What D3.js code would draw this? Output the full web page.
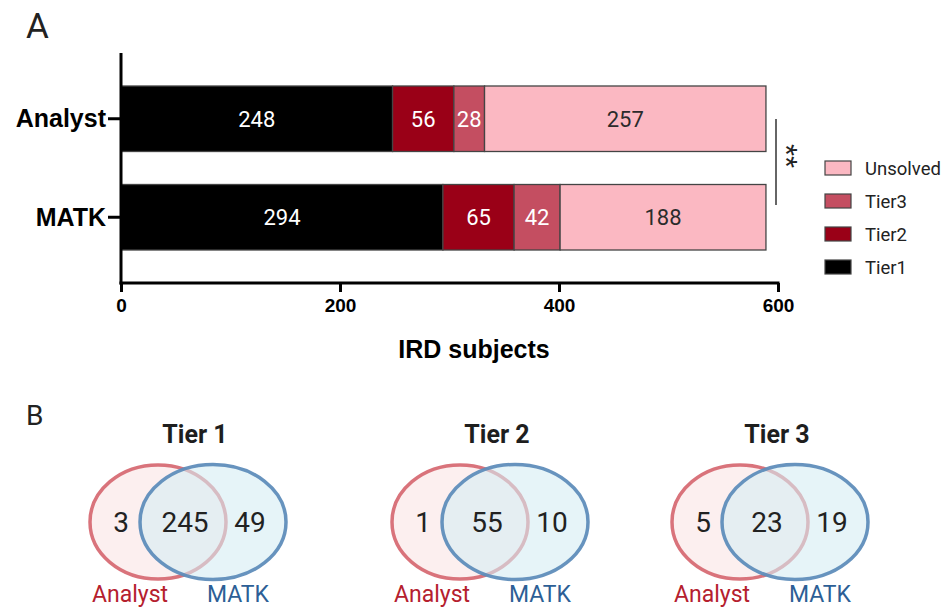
<!DOCTYPE html>
<html>
<head>
<meta charset="utf-8">
<script src="https://cdn.jsdelivr.net/npm/d3@7/dist/d3.min.js"></script>
<style>
  html, body { margin: 0; padding: 0; background: #fff; }
  svg { display: block; }
</style>
</head>
<body>
<svg id="fig" width="946" height="607"></svg>
<script>
// ---- Panel A: stacked bar data ----
const groups = ["Analyst", "MATK"];
const tierKeys = ["Tier1", "Tier2", "Tier3", "Unsolved"];
const tier1 = [248, 294];
const tier2 = [56, 65];
const tier3 = [28, 42];
const unsolved = [257, 188];
const xTicks = [0, 200, 400, 600];
const tierColors = ["#000000", "#9a0017", "#c44e61", "#fbb8c2"];
const legendOrder = ["Unsolved", "Tier3", "Tier2", "Tier1"];

// ---- Panel B: Venn counts (Analyst only, shared, MATK only) ----
const vennTitles = ["Tier 1", "Tier 2", "Tier 3"];
const analystOnly = [3, 1, 5];
const shared = [245, 55, 23];
const matkOnly = [49, 10, 19];

const svg = d3.select("#fig");
const arial = "'Liberation Sans', Arial, sans-serif";
const roboto = "Roboto, 'Noto Sans', sans-serif";

// Panel letters
svg.append("text").attr("x", 26).attr("y", 38)
  .attr("font-family", roboto).attr("font-weight", 400).attr("font-size", 35)
  .attr("fill", "#222").text("A");
svg.append("text").attr("x", 26).attr("y", 425)
  .attr("font-family", roboto).attr("font-weight", 400).attr("font-size", 28)
  .attr("fill", "#222").text("B");

// Table of rows for stacking
const rows = groups.map((g, i) => ({
  group: g, Tier1: tier1[i], Tier2: tier2[i], Tier3: tier3[i], Unsolved: unsolved[i]
}));
const series = d3.stack().keys(tierKeys)(rows);

const x = d3.scaleLinear().domain([0, 600]).range([121, 778]);
const y = d3.scaleBand().domain(groups).range([53, 283]).paddingInner(0.335).paddingOuter(0.335);
const color = d3.scaleOrdinal().domain(tierKeys).range(tierColors);

const bars = svg.append("g");
series.forEach(s => {
  const key = s.key;
  bars.selectAll(null).data(s).join("rect")
    .attr("x", d => x(d[0]))
    .attr("y", d => y(d.data.group))
    .attr("width", d => x(d[1]) - x(d[0]))
    .attr("height", y.bandwidth())
    .attr("fill", color(key))
    .attr("stroke", "#444")
    .attr("stroke-width", 1.3);
  bars.selectAll(null).data(s).join("text")
    .attr("x", d => (x(d[0]) + x(d[1])) / 2)
    .attr("y", d => y(d.data.group) + y.bandwidth() / 2)
    .attr("dy", "0.36em")
    .attr("text-anchor", "middle")
    .attr("font-family", roboto)
    .attr("font-size", 22)
    .attr("fill", key === "Unsolved" ? "#2b2b2b" : "#ffffff")
    .text(d => d[1] - d[0]);
});

// Axes
const xAxis = svg.append("g").attr("transform", "translate(0,283)")
  .call(d3.axisBottom(x).tickValues(xTicks).tickSize(9).tickSizeOuter(0).tickPadding(7));
const yAxis = svg.append("g").attr("transform", "translate(121,0)")
  .call(d3.axisLeft(y).tickSize(13).tickSizeOuter(0).tickPadding(2));
[xAxis, yAxis].forEach(a => {
  a.select(".domain").attr("stroke", "#000").attr("stroke-width", 3);
  a.selectAll(".tick line").attr("stroke", "#000").attr("stroke-width", 3);
});
yAxis.select(".domain").attr("d", "M0,53V284.5");
xAxis.select(".domain").attr("d", `M${x(0) - 1.5},0H${x(600) + 1.5}`);
xAxis.selectAll(".tick text").attr("font-family", arial).attr("font-weight", "bold")
  .attr("font-size", 19).attr("fill", "#000");
yAxis.selectAll(".tick text").attr("font-family", arial).attr("font-weight", "bold")
  .attr("font-size", 25).attr("fill", "#000").attr("dy", "0.35em");

svg.append("text").attr("x", 474).attr("y", 358)
  .attr("text-anchor", "middle").attr("font-family", arial).attr("font-weight", "bold")
  .attr("font-size", 25).attr("fill", "#000").text("IRD subjects");

// Significance bracket
svg.append("line").attr("x1", 776).attr("x2", 776).attr("y1", 119).attr("y2", 205)
  .attr("stroke", "#333").attr("stroke-width", 1.5);
svg.append("text").attr("transform", "translate(775,156) rotate(90)")
  .attr("text-anchor", "middle").attr("font-family", arial).attr("font-size", 31)
  .attr("fill", "#222").text("**");

// Legend
const legend = svg.append("g");
legendOrder.forEach((k, i) => {
  const cy = 168 + i * 33;
  legend.append("rect").attr("x", 825).attr("y", cy - 7).attr("width", 26).attr("height", 14)
    .attr("fill", color(k)).attr("stroke", "#444").attr("stroke-width", 1.2);
  legend.append("text").attr("x", 865).attr("y", cy).attr("dy", "0.36em")
    .attr("font-family", roboto).attr("font-size", 18.5).attr("fill", "#222").text(k);
});

// ---- Panel B: Venn diagrams ----
const vennCenters = [195, 497, 777];
const venn = svg.append("g");
vennTitles.forEach((t, i) => {
  const cx = vennCenters[i];
  const g = venn.append("g").attr("transform", `translate(${cx},0)`);
  g.append("text").attr("x", 0).attr("y", 443).attr("text-anchor", "middle")
    .attr("font-family", roboto).attr("font-weight", "bold").attr("font-size", 25)
    .attr("fill", "#1e1e1e").text(t);
  g.append("ellipse").attr("cx", -37).attr("cy", 522).attr("rx", 68).attr("ry", 57)
    .attr("fill", "#fcefef").attr("stroke", "#d9737b").attr("stroke-width", 3.5);
  g.append("ellipse").attr("cx", 18).attr("cy", 522).attr("rx", 73).attr("ry", 57.5)
    .attr("fill", "rgba(214,236,244,0.6)").attr("stroke", "#5f8dbb").attr("stroke-opacity", 0.95)
    .attr("stroke-width", 3.5);
  const nums = [[analystOnly[i], -74], [shared[i], -10], [matkOnly[i], 55]];
  nums.forEach(([v, dx]) => {
    g.append("text").attr("x", dx).attr("y", 522).attr("dy", "0.36em")
      .attr("text-anchor", "middle").attr("font-family", roboto).attr("font-size", 28)
      .attr("fill", "#222").text(v);
  });
  g.append("text").attr("x", -65).attr("y", 602).attr("text-anchor", "middle")
    .attr("font-family", roboto).attr("font-size", 23).attr("fill", "#b5202e").text("Analyst");
  g.append("text").attr("x", 43).attr("y", 602).attr("text-anchor", "middle")
    .attr("font-family", roboto).attr("font-size", 23).attr("fill", "#2d5f96").text("MATK");
});
</script>
</body>
</html>
